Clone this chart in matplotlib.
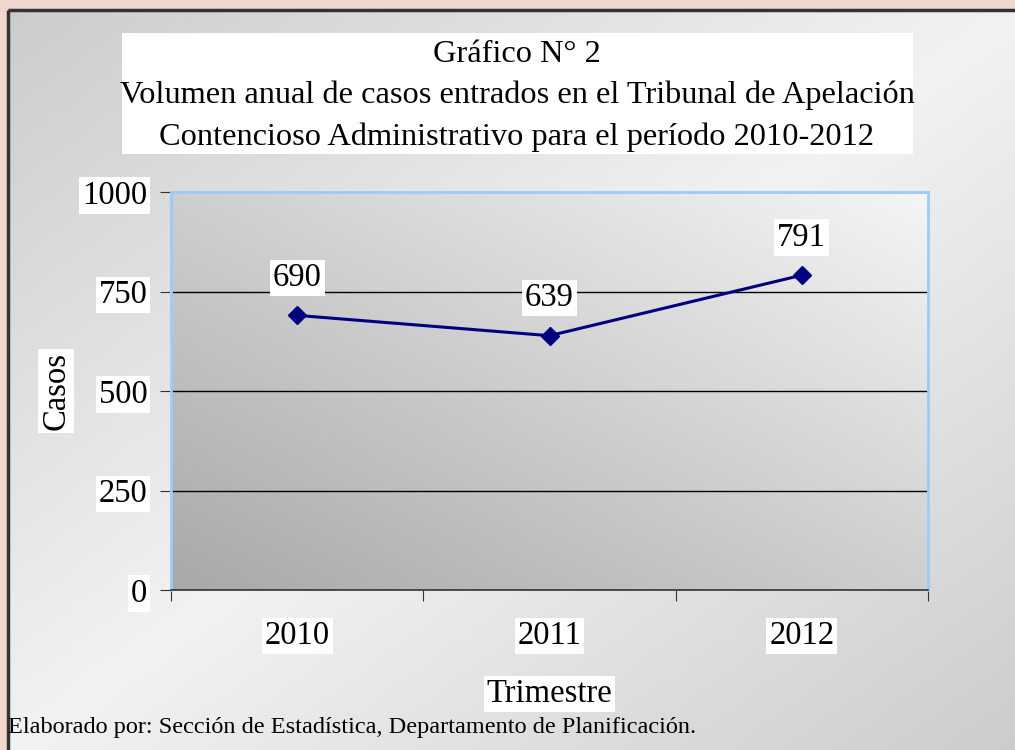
import numpy as np
import matplotlib
matplotlib.use('Agg')
import matplotlib.pyplot as plt
from matplotlib.patches import Rectangle

# data
years = ['2010', '2011', '2012']
casos = [690, 639, 791]
yticks = [0, 250, 500, 750, 1000]

title = 'Gráfico N° 2\nVolumen anual de casos entrados en el Tribunal de Apelación\nContencioso Administrativo para el período 2010-2012'
xlabel = 'Trimestre'
ylabel = 'Casos'
source = 'Elaborado por: Sección de Estadística, Departamento de Planificación.'

plt.rcParams['font.family'] = ['Liberation Serif', 'DejaVu Serif']
FS = 23.5

W, H = 1015, 750
fig = plt.figure(figsize=(W / 100, H / 100), dpi=100)
fig.patch.set_facecolor('#efd7d0')

# background frame with diagonal gray gradient
bg = fig.add_axes([0, 0, 1, 1], zorder=-5)
bg.set_xlim(0, W)
bg.set_ylim(H, 0)
bg.axis('off')
gx, gy = np.meshgrid(np.linspace(0, 1, 200), np.linspace(0, 1, 150))
t = (gx + gy) / 2
v = 0.80 + 0.15 * (1 - np.abs(2 * t - 1))
bg.imshow(np.dstack([v, v, v]), extent=[8, W + 5, H + 5, 10], aspect='auto', zorder=0)
bg.add_patch(Rectangle((8, 10), W, H, fill=False, edgecolor='#333333', linewidth=2.5, zorder=2))
bg.add_patch(Rectangle((122, 33), 791, 121, facecolor='white', edgecolor='none', zorder=3))
bg.text(517, 96, title, ha='center', va='center', fontsize=23.3, linespacing=1.52, zorder=4)
bg.text(8, 727, source, ha='left', va='center', fontsize=17.5, zorder=4)

ax = fig.add_axes([171 / W, 1 - 590 / H, (928 - 171) / W, (590 - 192) / H])
x = np.arange(len(years)) + 0.5

# plot area gradient: dark bottom-left to light top-right
px, py = np.meshgrid(np.linspace(0, 1, 200), np.linspace(0, 1, 150))
pv = 0.66 + 0.30 * (px + py) / 2
ax.imshow(np.dstack([pv, pv, pv]), extent=[0, 3, 0, 1000], origin='lower', aspect='auto', zorder=0)

for yv in yticks[1:-1]:
    ax.axhline(yv, color='black', linewidth=1, zorder=1)

ax.plot(x, casos, color='#000080', linewidth=2.2, marker='D', markersize=9, zorder=3)
for xi, yi in zip(x, casos):
    ax.annotate(str(yi), (xi, yi), xytext=(0, 27), textcoords='offset points',
                ha='center', va='center', fontsize=FS,
                bbox=dict(facecolor='white', edgecolor='none', pad=2), zorder=4)

ax.set_xlim(0, 3)
ax.set_ylim(0, 1000)
ax.set_yticks(yticks)
ax.set_yticklabels([str(v) for v in yticks], fontsize=FS,
                   bbox=dict(facecolor='white', edgecolor='none', pad=2))
ax.set_xticks([0, 1, 2, 3])
ax.set_xticklabels([])
ax.set_xticks(x, minor=True)
ax.set_xticklabels(years, minor=True, fontsize=FS,
                   bbox=dict(facecolor='white', edgecolor='none', pad=2))
ax.tick_params(axis='x', which='minor', length=0, pad=22)
ax.tick_params(axis='x', which='major', direction='out', length=8, color='#333333')
ax.tick_params(axis='y', direction='out', length=8, color='#333333', pad=9)

for side in ['top', 'right', 'left']:
    ax.spines[side].set_color('#99ccff')
    ax.spines[side].set_linewidth(2)
ax.spines['bottom'].set_color('#333333')
ax.spines['bottom'].set_linewidth(1.2)

ax.set_xlabel(xlabel, fontsize=FS, labelpad=20,
              bbox=dict(facecolor='white', edgecolor='none', pad=2))
ax.set_ylabel(ylabel, fontsize=FS, labelpad=8,
              bbox=dict(facecolor='white', edgecolor='none', pad=2))

fig.savefig('out.png', dpi=100, facecolor=fig.get_facecolor())
